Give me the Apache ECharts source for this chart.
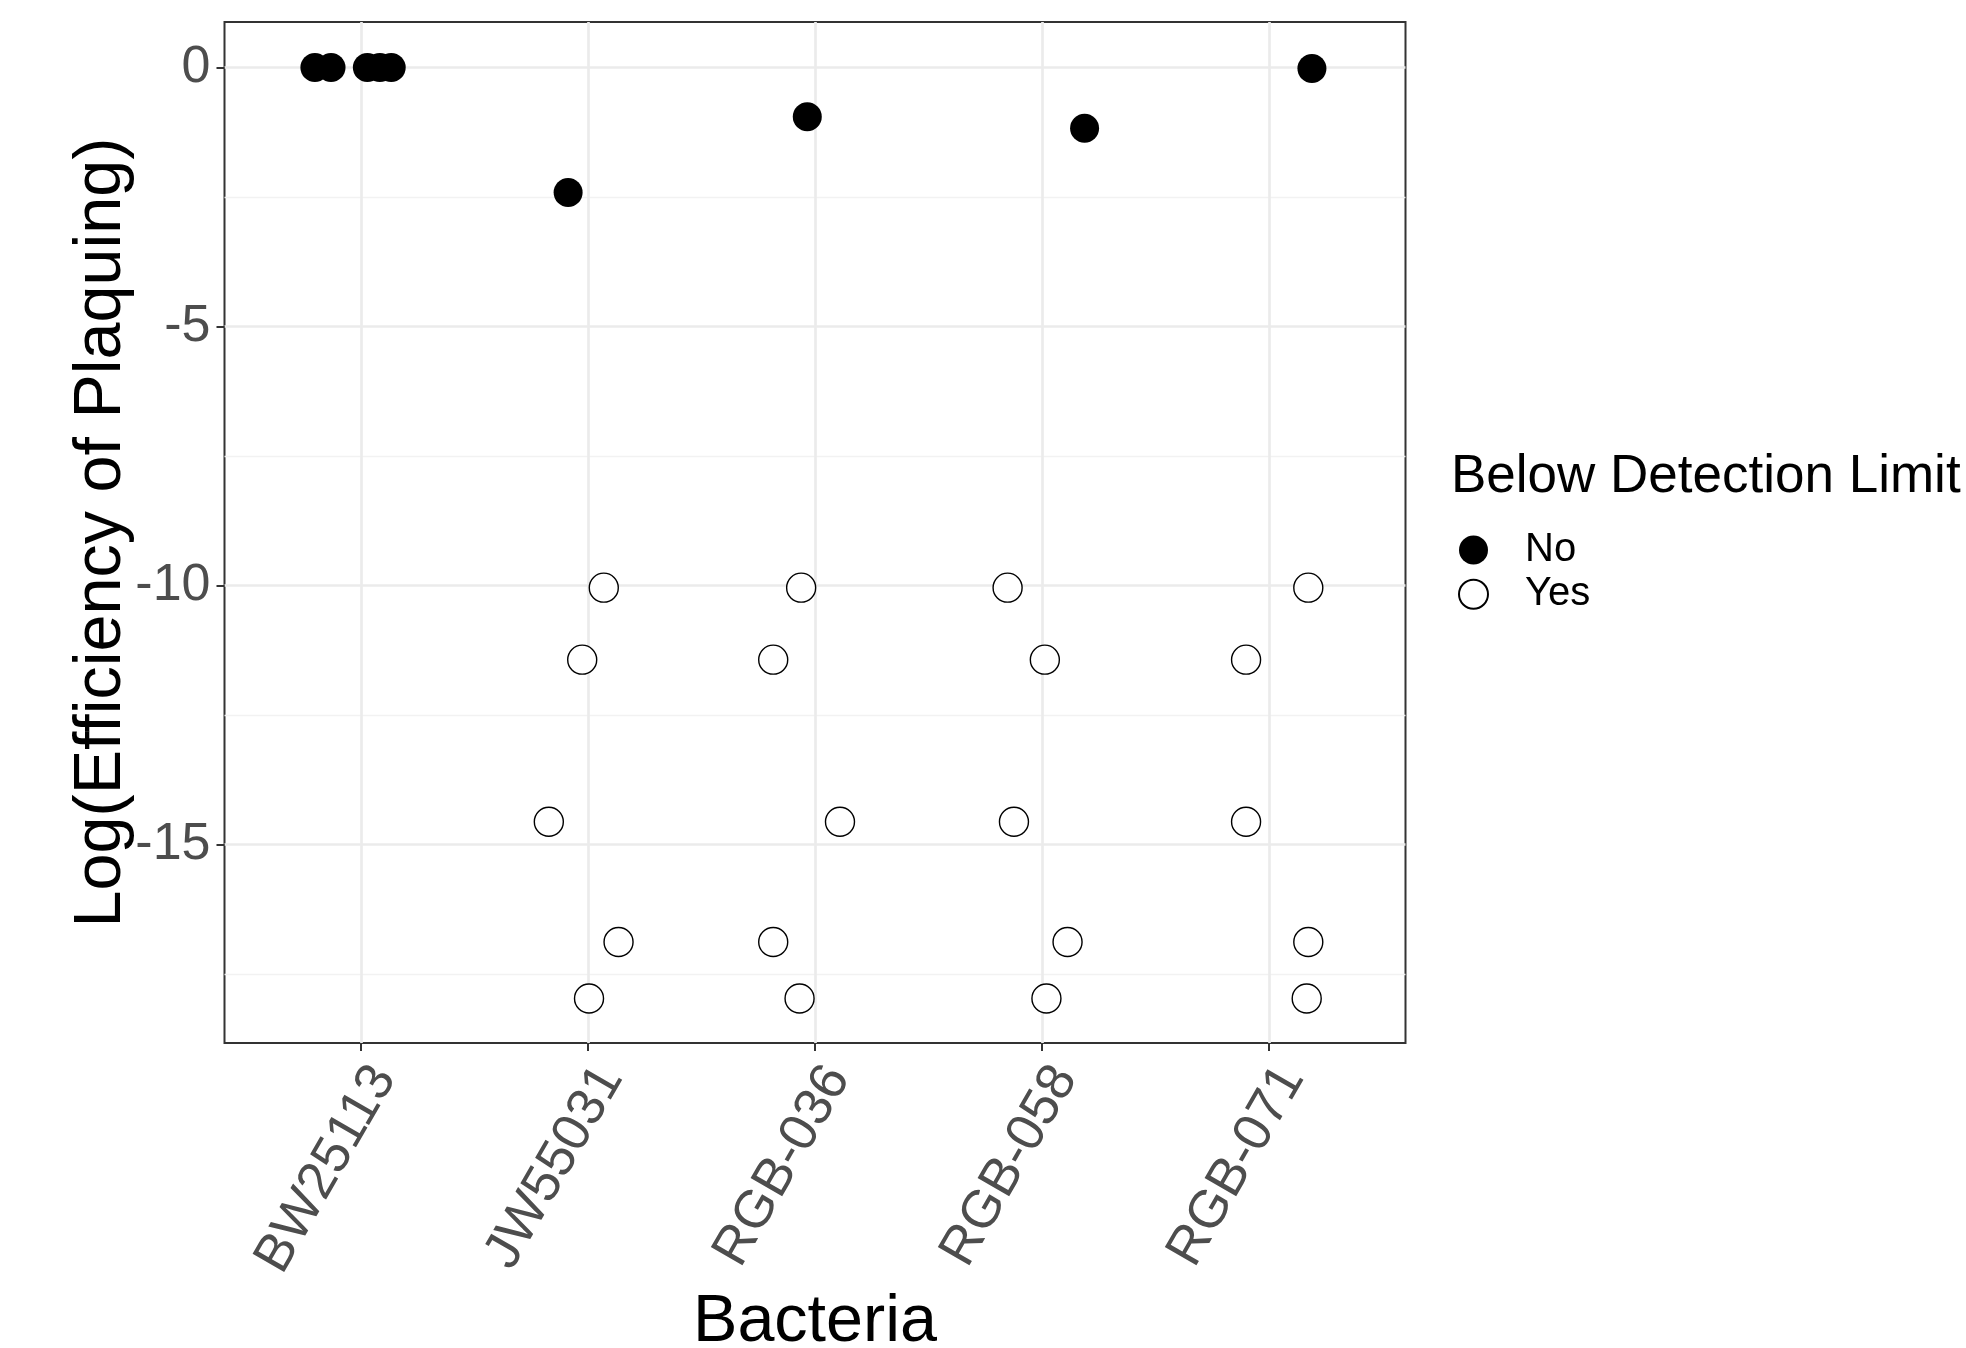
<!DOCTYPE html>
<html>
<head>
<meta charset="utf-8">
<script src="https://cdn.jsdelivr.net/npm/echarts@6/dist/echarts.min.js"></script>
<style>
html,body{margin:0;padding:0;background:#fff;}
#chart{width:1966px;height:1348px;}
</style>
</head>
<body>
<div id="chart"></div>
<script>
// ---- data ----
const categories = ['BW25113', 'JW55031', 'RGB-036', 'RGB-058', 'RGB-071'];
const yTicks = [-15, -10, -5, 0];
const yMinorTicks = [-17.5, -12.5, -7.5, -2.5];

// Below detection limit: No (filled)
const noCat    = ['BW25113','BW25113','BW25113','BW25113','BW25113','JW55031','RGB-036','RGB-058','RGB-071'];
const noJitter = [-0.202, -0.131, 0.029, 0.084, 0.134, -0.087, -0.034, 0.187, 0.188];
const noY      = [0, 0, 0, 0, 0, -2.41, -0.95, -1.17, -0.02];

// Below detection limit: Yes (open)
const yesCat    = ['JW55031','JW55031','JW55031','JW55031','JW55031',
                   'RGB-036','RGB-036','RGB-036','RGB-036','RGB-036',
                   'RGB-058','RGB-058','RGB-058','RGB-058','RGB-058',
                   'RGB-071','RGB-071','RGB-071','RGB-071','RGB-071'];
const yesJitter = [0.070, -0.025, -0.172, 0.135, 0.005,
                   -0.061, -0.184, 0.110, -0.184, -0.068,
                   -0.152, 0.012, -0.124, 0.112, 0.019,
                   0.172, -0.102, -0.102, 0.172, 0.165];
const yesY      = [-10.04, -11.43, -14.56, -16.88, -17.97,
                   -10.04, -11.43, -14.56, -16.88, -17.97,
                   -10.04, -11.43, -14.56, -16.88, -17.97,
                   -10.04, -11.43, -14.56, -16.88, -17.97];

const yRange = [-18.83, 0.88];
const xRange = [-0.6, 4.6];

function toPoints(cats, jit, ys) {
  return ys.map((y, i) => [categories.indexOf(cats[i]) + jit[i], y]);
}

const FONT = '"Liberation Sans", Arial, sans-serif';
const chart = echarts.init(document.getElementById('chart'));
chart.setOption({
  animation: false,
  backgroundColor: '#ffffff',
  grid: {
    left: 224.5, right: 560.5, top: 22, bottom: 305,
    show: true, borderColor: '#333333', borderWidth: 2, backgroundColor: 'transparent',
    containLabel: false, outerBoundsMode: 'none'
  },
  title: {
    text: 'Below Detection Limit',
    left: 1446, top: 446,
    textStyle: { fontFamily: FONT, fontSize: 53, fontWeight: 'normal', color: '#000' }
  },
  legend: {
    orient: 'vertical',
    left: 1453, top: 525,
    itemWidth: 29, itemHeight: 29, itemGap: 4.3,
    icon: 'circle',
    textStyle: { fontFamily: FONT, fontSize: 40, color: '#000', lineHeight: 29, padding: [0, 0, 0, 32] },
    data: ['No', 'Yes']
  },
  xAxis: {
    type: 'value', min: xRange[0], max: xRange[1],
    name: 'Bacteria', nameLocation: 'middle', nameGap: 246,
    nameTextStyle: { fontFamily: FONT, fontSize: 66.5, color: '#000' },
    axisLine: { show: false, onZero: false },
    axisTick: { show: true, length: 8, lineStyle: { color: '#333333', width: 2 }, customValues: [0, 1, 2, 3, 4] },
    axisLabel: {
      customValues: [0, 1, 2, 3, 4],
      formatter: v => categories[Math.round(v)] || '',
      rotate: 60, margin: 14, verticalAlign: 'top', align: 'right',
      fontFamily: FONT, fontSize: 53, color: '#4D4D4D'
    },
    splitLine: { show: true, lineStyle: { color: '#EBEBEB', width: 2.7 } }
  },
  yAxis: [{
    type: 'value', min: yRange[0], max: yRange[1],
    name: 'Log(Efficiency of Plaquing)', nameLocation: 'middle', nameGap: 89, nameRotate: 90,
    nameMoveOverlap: false,
    nameTextStyle: { fontFamily: FONT, fontSize: 66.5, color: '#000' },
    axisLine: { show: false, onZero: false },
    axisTick: { show: true, length: 8, lineStyle: { color: '#333333', width: 2 }, customValues: yTicks },
    axisLabel: {
      customValues: yTicks, margin: 14,
      fontFamily: FONT, fontSize: 52, color: '#4D4D4D'
    },
    splitLine: { show: true, lineStyle: { color: '#EBEBEB', width: 2.7 } }
  }, {
    type: 'value', min: yRange[0], max: yRange[1], position: 'left',
    axisLine: { show: false, onZero: false },
    axisTick: { show: false, customValues: yMinorTicks },
    axisLabel: { show: false, customValues: yMinorTicks },
    splitLine: { show: true, lineStyle: { color: '#F2F2F2', width: 1.4 } }
  }],
  series: [{
    name: 'No', type: 'scatter', yAxisIndex: 0,
    symbol: 'circle', symbolSize: 29,
    itemStyle: { color: '#000000', opacity: 1 },
    data: toPoints(noCat, noJitter, noY), z: 3
  }, {
    name: 'Yes', type: 'scatter', yAxisIndex: 0,
    symbol: 'circle', symbolSize: 29,
    itemStyle: { color: '#ffffff', borderColor: '#000000', borderWidth: 1.4, opacity: 1 },
    data: toPoints(yesCat, yesJitter, yesY), z: 3
  }]
});
</script>
</body>
</html>
